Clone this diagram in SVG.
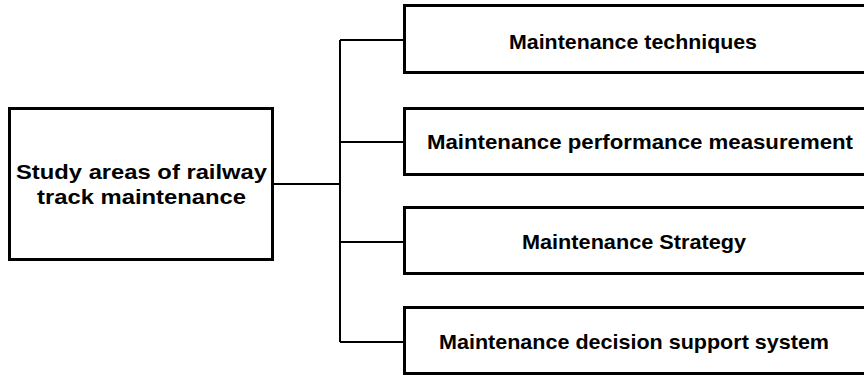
<svg xmlns="http://www.w3.org/2000/svg" width="864" height="375" viewBox="0 0 864 375">
<style>
.box{fill:#fff;stroke:#000;stroke-width:3}
.conn{fill:none;stroke:#000;stroke-width:2}
.t{font-family:"Liberation Sans",Arial,sans-serif;font-weight:bold;font-size:21px;fill:#000;text-anchor:middle}
</style>
<rect width="864" height="375" fill="#fff"/>
<g id="connectors">
<path class="conn" d="M273,184 H340 M340,40 V342 M340,40 H404 M340,142 H404 M340,242 H404 M340,342 H404"/>
</g>
<g id="root">
<rect class="box" x="9.5" y="108.5" width="263" height="151"/>
<text class="t" x="141.5" y="179" textLength="251" lengthAdjust="spacingAndGlyphs">Study areas of railway</text>
<text class="t" x="141.5" y="204" textLength="209" lengthAdjust="spacingAndGlyphs">track maintenance</text>
</g>
<g id="n1">
<rect class="box" x="404.5" y="5.5" width="463" height="67"/>
<text class="t" x="633" y="49" textLength="248" lengthAdjust="spacingAndGlyphs">Maintenance techniques</text>
</g>
<g id="n2">
<rect class="box" x="404.5" y="108.5" width="463" height="66"/>
<text class="t" x="640" y="149" textLength="426" lengthAdjust="spacingAndGlyphs">Maintenance performance measurement</text>
</g>
<g id="n3">
<rect class="box" x="404.5" y="207.5" width="463" height="66"/>
<text class="t" x="634" y="249" textLength="224" lengthAdjust="spacingAndGlyphs">Maintenance Strategy</text>
</g>
<g id="n4">
<rect class="box" x="404.5" y="307.5" width="463" height="66"/>
<text class="t" x="634" y="349" textLength="390" lengthAdjust="spacingAndGlyphs">Maintenance decision support system</text>
</g>
</svg>
